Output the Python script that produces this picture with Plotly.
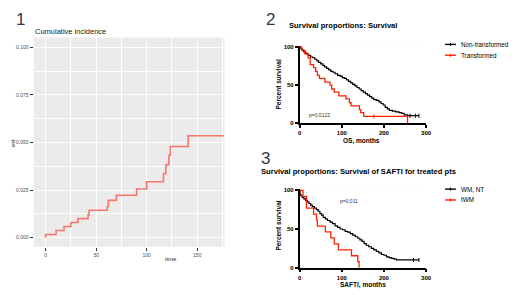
import plotly.graph_objects as go

W, H = 520, 295

# ---------- Panel 1: cumulative incidence ----------
ci_time = [0, 0, 10.4, 18.2, 25, 32, 42, 43, 61, 62, 70, 90, 100, 116.6, 119, 122, 123.4, 141, 177]
ci_est = [0, 0.0017, 0.0038, 0.0059, 0.0080, 0.0100, 0.0120, 0.0144, 0.0164, 0.0196, 0.0223,
          0.0256, 0.0294, 0.0337, 0.0384, 0.0433, 0.0479, 0.0536, 0.0536]
ci_xticks = [0, 50, 100, 150]
ci_yticks = [0.0, 0.025, 0.05, 0.075, 0.1]
ci_ylabels = ["0.000", "0.025", "0.050", "0.075", "0.100"]

# ---------- Panel 2: OS ----------
os_nt_t = [0, 3, 6, 9, 13, 17, 21, 26, 31, 36, 41, 45, 50, 55, 59, 64, 69, 74, 79, 84, 90, 96, 101,
           106, 111, 116, 121, 126, 131, 136, 141, 146, 151, 156, 161, 166, 171, 176, 182, 188, 193,
           198, 203, 208, 213, 220, 228, 236, 242, 248, 256, 283]
os_nt_s = [100, 98, 96, 94, 92, 91, 89, 87, 86, 84, 82, 80, 78, 76, 74, 72, 70, 68, 67, 65, 63, 62, 60,
           59, 57, 55, 53, 51, 49, 47, 45, 43, 41, 39, 37, 35, 33, 31, 30, 28, 26, 24, 21, 19, 17, 16,
           15, 14, 13, 11, 10, 10]
os_nt_cens_t = [262, 275, 283]
os_nt_cens_s = [10, 10, 10]
os_tr_t = [0, 5, 12, 20, 25, 33, 38, 42, 47, 60, 72, 76, 82, 93, 110, 118, 122, 142, 145, 152, 256, 256]
os_tr_s = [100, 96, 91, 86, 77, 73, 68, 63, 59, 54, 50, 45, 41, 36, 32, 27, 23, 18, 14, 9, 9, 0]
os_tr_cens_t = [176]
os_tr_cens_s = [9]

# ---------- Panel 3: SAFTI ----------
sf_nt_t = [0, 1, 3, 6, 10, 14, 18, 22, 26, 30, 35, 40, 44, 48, 52, 56, 61, 66, 72, 78, 84, 90, 96,
           102, 108, 114, 120, 126, 132, 138, 143, 148, 153, 158, 164, 170, 176, 182, 188, 194, 200,
           206, 212, 218, 224, 230, 283]
sf_nt_s = [100, 95, 93, 91, 89, 87, 85, 83, 81, 79, 77, 75, 73, 70, 68, 65, 63, 61, 59, 57, 54, 52, 50,
           49, 47, 46, 44, 42, 40, 38, 36, 34, 31, 29, 27, 25, 23, 21, 19, 17, 16, 14, 13, 12, 11, 10, 10]
sf_nt_cens_t = [270, 283]
sf_nt_cens_s = [10, 10]
sf_tr_t = [0, 8, 16, 33, 40, 42, 61, 74, 82, 92, 123, 138, 141]
sf_tr_s = [100, 92.3, 76.9, 69.2, 61.5, 53.8, 46.2, 38.5, 30.8, 23.1, 15.4, 7.7, 0]

km_xticks = [0, 100, 200, 300]
km_yticks = [0, 50, 100]

BLACK = "#000000"
RED = "#FF2200"
SALMON = "#F8766D"
NUMC = "#2F3B4C"
FONT = "Liberation Sans"


def px_x(p):
    return p / W


def px_y(p):
    return 1 - p / H


fig = go.Figure()

# Panel 1
fig.add_trace(go.Scatter(x=ci_time, y=ci_est, mode="lines", line=dict(color=SALMON, width=1.6, shape="hv"),
                         xaxis="x", yaxis="y", showlegend=False))

# Panel 2
fig.add_trace(go.Scatter(x=os_nt_t, y=os_nt_s, mode="lines", line=dict(color=BLACK, width=1.2, shape="hv"),
                         xaxis="x2", yaxis="y2", showlegend=False))
fig.add_trace(go.Scatter(x=os_tr_t, y=os_tr_s, mode="lines", line=dict(color=RED, width=1.3, shape="hv"),
                         xaxis="x2", yaxis="y2", showlegend=False))
fig.add_trace(go.Scatter(x=os_nt_cens_t, y=os_nt_cens_s, mode="markers",
                         marker=dict(symbol="line-ns", size=3, line=dict(color=BLACK, width=1)),
                         xaxis="x2", yaxis="y2", showlegend=False))
fig.add_trace(go.Scatter(x=os_tr_cens_t, y=os_tr_cens_s, mode="markers",
                         marker=dict(symbol="line-ns", size=3, line=dict(color=RED, width=1)),
                         xaxis="x2", yaxis="y2", showlegend=False))

# Panel 3
fig.add_trace(go.Scatter(x=sf_nt_t, y=sf_nt_s, mode="lines", line=dict(color=BLACK, width=1.2, shape="hv"),
                         xaxis="x3", yaxis="y3", showlegend=False))
fig.add_trace(go.Scatter(x=sf_tr_t, y=sf_tr_s, mode="lines", line=dict(color=RED, width=1.3, shape="hv"),
                         xaxis="x3", yaxis="y3", showlegend=False))
fig.add_trace(go.Scatter(x=sf_nt_cens_t, y=sf_nt_cens_s, mode="markers",
                         marker=dict(symbol="line-ns", size=3, line=dict(color=BLACK, width=1)),
                         xaxis="x3", yaxis="y3", showlegend=False))

gg_axis = dict(showgrid=True, gridcolor="white", gridwidth=1, zeroline=False, showline=False,
               ticks="outside", ticklen=3, tickwidth=0.6, tickcolor="#333333",
               tickfont=dict(family=FONT, size=5, color="#4D4D4D"))

km_axis = dict(showgrid=False, zeroline=False, showline=True, linecolor=BLACK, linewidth=1.5,
               ticks="outside", ticklen=3, tickwidth=1.5, tickcolor=BLACK,
               tickfont=dict(family=FONT, size=6, color=BLACK, weight="bold"))

fig.update_layout(
    width=W, height=H, margin=dict(l=0, r=0, t=0, b=0),
    paper_bgcolor="white", plot_bgcolor="#EBEBEB",
    xaxis=dict(gg_axis, domain=[px_x(32), px_x(226)], range=[-12, 177], tickvals=ci_xticks,
               minor=dict(dtick=25, tick0=25, showgrid=True, gridcolor="white", gridwidth=0.5, ticks=""),
               anchor="y"),
    yaxis=dict(gg_axis, domain=[px_y(249), px_y(37)], range=[-0.0047, 0.1052], tickvals=ci_yticks,
               ticktext=ci_ylabels,
               minor=dict(dtick=0.0125, tick0=0.0125, showgrid=True, gridcolor="white", gridwidth=0.5, ticks=""),
               anchor="x"),
    xaxis2=dict(km_axis, domain=[px_x(302.3), px_x(430.7)], range=[0, 300], tickvals=km_xticks, anchor="y2"),
    yaxis2=dict(km_axis, domain=[px_y(124), px_y(45.15)], range=[0, 102], tickvals=km_yticks, anchor="x2"),
    xaxis3=dict(km_axis, domain=[px_x(302.3), px_x(430.7)], range=[0, 300], tickvals=km_xticks, anchor="y3"),
    yaxis3=dict(km_axis, domain=[px_y(270.3), px_y(190.4)], range=[0, 102], tickvals=km_yticks, anchor="x3"),
)

# KM panels have a white background
for dom_x, dom_y in [((302.3, 430.7), (124, 45.15)), ((302.3, 430.7), (270.3, 190.4))]:
    fig.add_shape(type="rect", xref="paper", yref="paper", layer="below",
                  x0=px_x(dom_x[0]), x1=px_x(dom_x[1]) + 0.002, y0=px_y(dom_y[0]), y1=px_y(dom_y[1]),
                  fillcolor="white", line=dict(width=0))

ann = []


def text(x, y, s, size, color=BLACK, bold=False, xanchor="left", angle=0, yanchor="middle"):
    ann.append(dict(x=px_x(x), y=px_y(y), xref="paper", yref="paper", text=s, showarrow=False,
                    xanchor=xanchor, yanchor=yanchor, textangle=angle,
                    font=dict(family=FONT, size=size, color=color, weight="bold" if bold else "normal")))


# Panel numbers
text(12, 18.5, "1", 17, NUMC, xanchor="left")
text(266, 18.5, "2", 17, NUMC, xanchor="left")
text(261, 160, "3", 17, NUMC, xanchor="left")

# Panel 1 texts
text(31.5, 30.5, "Cumulative incidence", 7.5, "#1A1A1A")
text(172, 262, "time", 6, "#1A1A1A", xanchor="center")
text(11, 144, "est", 5.5, "#1A1A1A", xanchor="center", angle=-90)

# Panel 2 texts
text(289, 25, "Survival proportions: Survival", 7.6, bold=True)
text(281, 85, "Percent survival", 6.5, bold=True, xanchor="center", angle=-90)
text(365, 142, "OS, months", 6.5, bold=True, xanchor="center")
ann.append(dict(x=48, y=10.5, xref="x2", yref="y2", text="p=0,0122", showarrow=False,
                font=dict(family=FONT, size=5, color="#333333")))
text(464, 44, "Non-transformed", 6.3)
text(464, 55, "Transformed", 6.3)

# Panel 3 texts
text(261.5, 173, "Survival proportions: Survival of SAFTI for treated pts", 7.6, bold=True)
text(281, 228, "Percent survival", 6.5, bold=True, xanchor="center", angle=-90)
text(367, 288, "SAFTI, months", 6.5, bold=True, xanchor="center")
ann.append(dict(x=116, y=86, xref="x3", yref="y3", text="p=0,011", showarrow=False,
                font=dict(family=FONT, size=5, color="#333333")))
text(464, 190.7, "WM, NT", 6.3)
text(464, 201.7, "tWM", 6.3)

fig.update_layout(annotations=ann)

# legend swatches
for yy, col in [(44, BLACK), (55, RED), (190.7, BLACK), (201.7, RED)]:
    fig.add_shape(type="line", xref="paper", yref="paper", x0=px_x(450), x1=px_x(461),
                  y0=px_y(yy), y1=px_y(yy), line=dict(color=col, width=1.4))
    fig.add_shape(type="line", xref="paper", yref="paper", x0=px_x(455.5), x1=px_x(455.5),
                  y0=px_y(yy - 1.5), y1=px_y(yy + 1.5), line=dict(color=col, width=1.2))

fig.write_html("out.html", config={"displayModeBar": False},
               post_script="document.body.style.margin='0';document.body.style.padding='0';")
